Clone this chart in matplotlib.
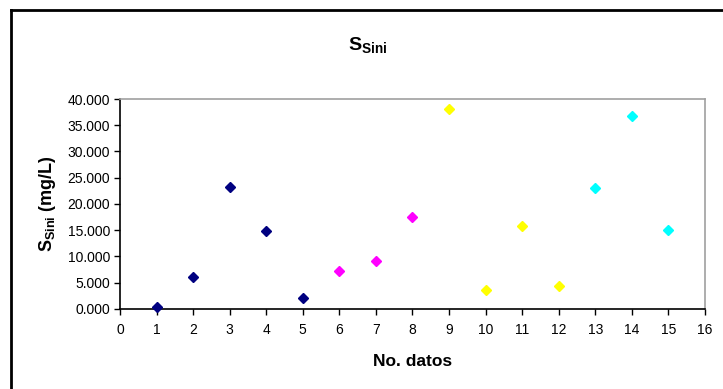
import matplotlib
matplotlib.use("Agg")
import matplotlib.pyplot as plt
from matplotlib.lines import Line2D
from matplotlib.ticker import FuncFormatter

plt.rcParams['font.family'] = ['Liberation Sans', 'DejaVu Sans']
plt.rcParams['mathtext.fontset'] = 'custom'
plt.rcParams['mathtext.rm'] = 'Liberation Sans'
plt.rcParams['mathtext.bf'] = 'Liberation Sans:bold'
plt.rcParams['mathtext.it'] = 'Liberation Sans:italic'

# Data: sample number vs. initial substrate concentration, grouped by colour
groups = [
    {"x": [1, 2, 3, 4, 5], "y": [300, 6000, 23200, 14800, 2100], "color": "#000080"},
    {"x": [6, 7, 8], "y": [7300, 9200, 17600], "color": "#FF00FF"},
    {"x": [9, 10, 11, 12], "y": [38000, 3700, 15900, 4400], "color": "#FFFF00"},
    {"x": [13, 14, 15], "y": [23100, 36700, 15100], "color": "#00FFFF"},
]
x_ticks = list(range(0, 17))
y_ticks = list(range(0, 40001, 5000))

fig = plt.figure(figsize=(7.23, 3.89), dpi=100)
ax = fig.add_axes([0.166, 0.2057, 0.809, 0.5398])

for g in groups:
    ax.plot(g["x"], g["y"], linestyle="none", marker="D", markersize=4.8,
            color=g["color"], markeredgecolor=g["color"], clip_on=False, zorder=3)

ax.set_xlim(0, 16)
ax.set_ylim(0, 40000)
ax.set_xticks(x_ticks)
ax.set_yticks(y_ticks)
ax.yaxis.set_major_formatter(FuncFormatter(lambda v, p: f"{v/1000:.3f}"))

ax.tick_params(direction="out", length=4, width=1, labelsize=10, color="black", pad=3)
ax.tick_params(axis="x", pad=6)
for side in ("left", "bottom"):
    ax.spines[side].set_color("black")
    ax.spines[side].set_linewidth(1.2)
for side in ("top", "right"):
    ax.spines[side].set_color("#A0A0A0")
    ax.spines[side].set_linewidth(1.2)

ax.set_xlabel("No. datos", fontsize=12.5, fontweight="bold", labelpad=12)
ax.set_ylabel(r"$\mathbf{S_{Sini}}$ (mg/L)", fontsize=13, fontweight="bold", labelpad=7)

fig.text(0.508, 0.885, r"$\mathbf{S_{Sini}}$", ha="center", va="center",
         fontsize=14, fontweight="bold")

# Outer chart border
fig.add_artist(Line2D([0.0155, 0.0155], [0.0, 0.974], transform=fig.transFigure,
                      color="black", linewidth=2))
fig.add_artist(Line2D([0.0155, 1.0], [0.974, 0.974], transform=fig.transFigure,
                      color="black", linewidth=2))

fig.savefig("out.png", dpi=100)
